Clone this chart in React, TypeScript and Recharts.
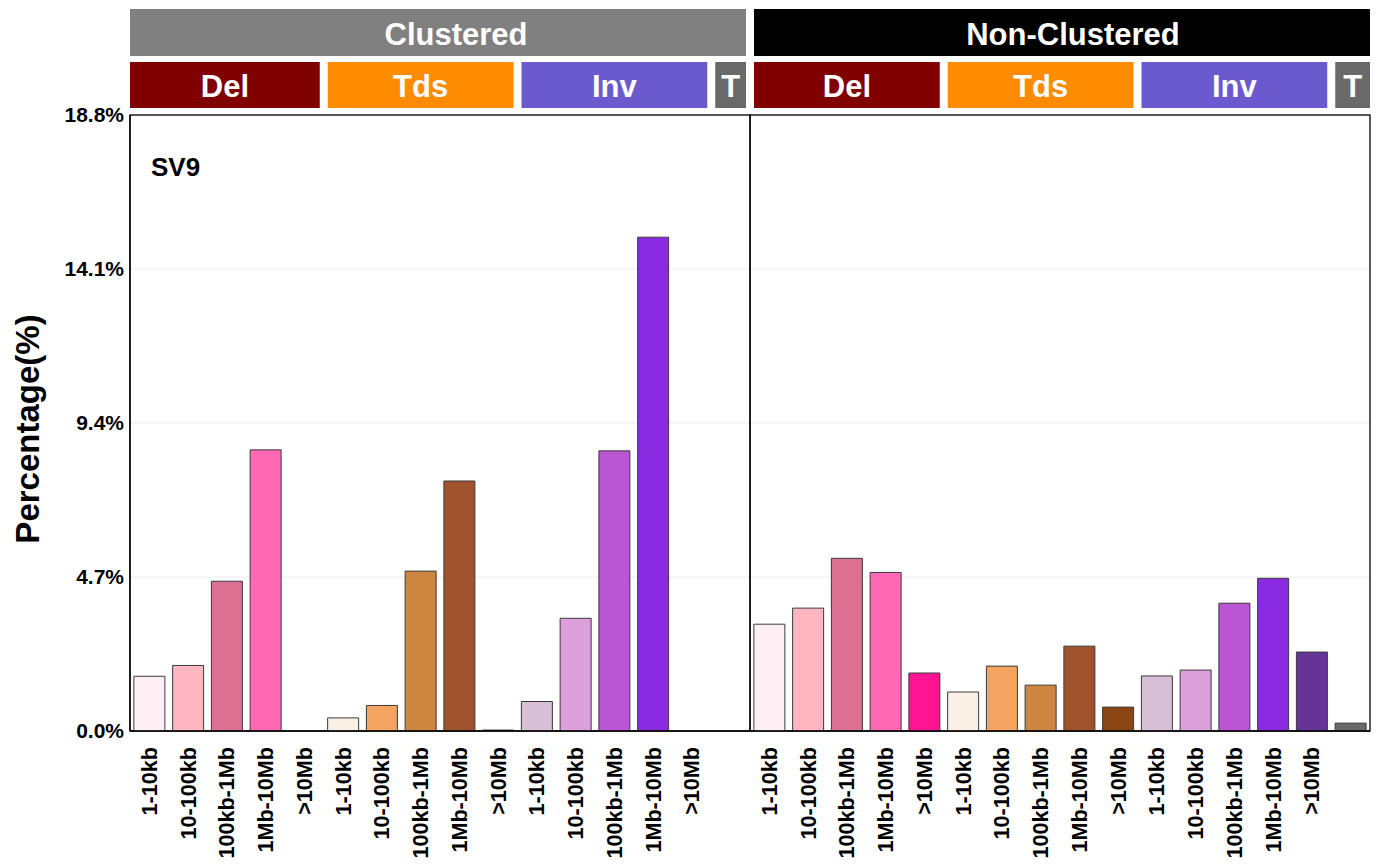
import React from 'react';
import { BarChart, Bar, XAxis, YAxis, CartesianGrid, Cell, ReferenceArea } from 'recharts';

const sizes = ['1-10kb', '10-100kb', '100kb-1Mb', '1Mb-10Mb', '>10Mb'];
const svTypes = ['Del', 'Tds', 'Inv', 'T'];
const clusterGroups = ['Clustered', 'Non-Clustered'];
const yTicks = [0, 4.7, 9.4, 14.1, 18.8];

// order: Del x5, Tds x5, Inv x5, T
const clusteredValues = [1.67, 2.0, 4.57, 8.58, 0, 0.4, 0.78, 4.88, 7.63, 0.03, 0.9, 3.44, 8.55, 15.07, 0, 0];
const nonClusteredValues = [3.26, 3.75, 5.27, 4.84, 1.77, 1.19, 1.98, 1.4, 2.59, 0.73, 1.68, 1.86, 3.9, 4.66, 2.41, 0.24];

const delColors = ['#FFF0F5', '#FFB6C1', '#DB7093', '#FF69B4', '#FF1493'];
const tdsColors = ['#FAF0E6', '#F4A460', '#CD853F', '#A0522D', '#8B4513'];
const invColors = ['#D8BFD8', '#DDA0DD', '#BA55D3', '#8A2BE2', '#663399'];
const transColor = '#696969';
const typeStripColors = { Del: '#800000', Tds: '#FF8C00', Inv: '#6A5ACD', T: '#696969' };
const clusterStripColors = { Clustered: '#808080', 'Non-Clustered': '#000000' };
const clusterLabelShift = { Clustered: 18, 'Non-Clustered': 11 };

const FONT = '"Liberation Sans", Arial, Helvetica, sans-serif';

type Row = { key: string; cluster: string; type: string; size: string; value: number; color: string };

const buildRows = (): Row[] => {
  const rows: Row[] = [];
  clusterGroups.forEach((cl, ci) => {
    const vals = ci === 0 ? clusteredValues : nonClusteredValues;
    let k = 0;
    svTypes.forEach((t) => {
      if (t === 'T') {
        rows.push({ key: `${cl}|T|`, cluster: cl, type: t, size: '', value: vals[k], color: transColor });
        k++;
      } else {
        const cols = t === 'Del' ? delColors : t === 'Tds' ? tdsColors : invColors;
        sizes.forEach((s, si) => {
          rows.push({ key: `${cl}|${t}|${s}`, cluster: cl, type: t, size: s, value: vals[k], color: cols[si] });
          k++;
        });
      }
    });
  });
  return rows;
};

const data = buildRows();

const XTick = (props: any) => {
  const { x, y, payload } = props;
  const label = String(payload.value).split('|')[2];
  const ty = y + 14;
  return (
    <text
      x={x}
      y={ty}
      transform={`rotate(-90, ${x}, ${ty})`}
      textAnchor="end"
      dominantBaseline="central"
      fontFamily={FONT}
      fontWeight="bold"
      fontSize={21.6}
      fill="#000"
    >
      {label}
    </text>
  );
};

const typeStripShape = (label: string, color: string, insetL: number, insetR: number) => (p: any) => {
  const { x, y, width } = p;
  const x1 = x + insetL;
  const w = width - insetL - insetR;
  return (
    <g>
      <rect x={x1} y={y - 53} width={w} height={46} fill={color} />
      <text x={x1 + w / 2} y={y - 53 + 35} textAnchor="middle" fill="#fff" fontFamily={FONT} fontWeight="bold" fontSize={31}>
        {label}
      </text>
    </g>
  );
};

const panelShape = (label: string, color: string, insetL: number, insetR: number, shift: number, showTag: boolean) => (p: any) => {
  const { x, y, width, height } = p;
  const x1 = x + insetL;
  const w = width - insetL - insetR;
  return (
    <g>
      <rect x={x} y={y} width={width} height={height} fill="none" stroke="#000" strokeWidth={1.3} />
      <rect x={x1} y={y - 106} width={w} height={47} fill={color} />
      <text x={x1 + w / 2 + shift} y={y - 106 + 36} textAnchor="middle" fill="#fff" fontFamily={FONT} fontWeight="bold" fontSize={31}>
        {label}
      </text>
      {showTag && (
        <text x={x + 21} y={y + 61} fill="#000" fontFamily={FONT} fontWeight="bold" fontSize={26}>
          SV9
        </text>
      )}
    </g>
  );
};

export default function App() {
  const refs: React.ReactNode[] = [];
  clusterGroups.forEach((cl, ci) => {
    const rows = data.filter((r) => r.cluster === cl);
    refs.push(
      <ReferenceArea
        key={`panel-${cl}`}
        x1={rows[0].key}
        x2={rows[rows.length - 1].key}
        y1={0}
        y2={18.8}
        ifOverflow="visible"
        shape={panelShape(
          cl,
          (clusterStripColors as any)[cl],
          ci === 0 ? 0 : 4,
          ci === 0 ? 4 : 0,
          (clusterLabelShift as any)[cl],
          ci === 0
        )}
      />
    );
    svTypes.forEach((t, ti) => {
      const tr = rows.filter((r) => r.type === t);
      const first = ci === 0 && ti === 0;
      const last = ci === clusterGroups.length - 1 && ti === svTypes.length - 1;
      refs.push(
        <ReferenceArea
          key={`strip-${cl}-${t}`}
          x1={tr[0].key}
          x2={tr[tr.length - 1].key}
          y1={0}
          y2={18.8}
          ifOverflow="visible"
          shape={typeStripShape(t, (typeStripColors as any)[t], first ? 0 : 4, last ? 0 : 4)}
        />
      );
    });
  });

  return (
    <div style={{ position: 'absolute', left: 0, top: 0, width: 1380, height: 865, background: '#fff' }}>
      <BarChart
        width={1380}
        height={865}
        data={data}
        margin={{ top: 115, right: 10, bottom: 0, left: 0 }}
        barCategoryGap="10%"
      >
        <CartesianGrid horizontal vertical={false} stroke="#EBEBEB" strokeWidth={1} />
        <XAxis
          dataKey="key"
          interval={0}
          height={134}
          tick={<XTick />}
          tickLine={false}
          tickSize={0}
          axisLine={{ stroke: '#000', strokeWidth: 1.3 }}
        />
        <YAxis
          width={130}
          domain={[0, 18.8]}
          ticks={yTicks}
          interval={0}
          allowDataOverflow
          tickFormatter={(v: number) => `${v.toFixed(1)}%`}
          tick={{ fontFamily: FONT, fontWeight: 'bold', fontSize: 21, fill: '#000' }}
          tickLine={false}
          tickSize={0}
          tickMargin={6}
          axisLine={{ stroke: '#000', strokeWidth: 1.3 }}
          label={{
            value: 'Percentage(%)',
            angle: -90,
            position: 'insideLeft',
            content: () => (
              <text
                x={27}
                y={429}
                transform="rotate(-90, 27, 429)"
                textAnchor="middle"
                dominantBaseline="central"
                fontFamily={FONT}
                fontWeight="bold"
                fontSize={33}
                fill="#000"
              >
                Percentage(%)
              </text>
            ),
          }}
        />
        <Bar dataKey="value" isAnimationActive={false} stroke="#3a3a3a" strokeWidth={1}>
          {data.map((r) => (
            <Cell key={r.key} fill={r.color} />
          ))}
        </Bar>
        {refs}
      </BarChart>
    </div>
  );
}
